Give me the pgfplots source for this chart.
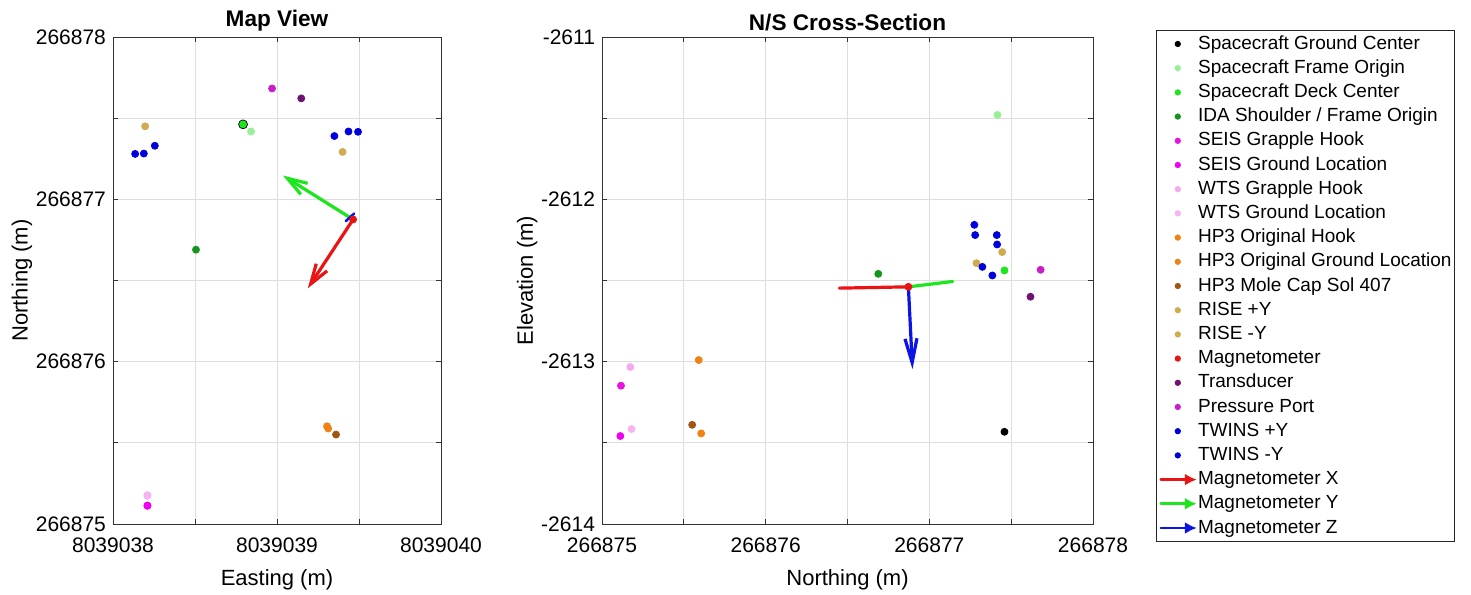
\documentclass[border=0pt]{standalone}
\usepackage{fontspec}
\setmainfont{Liberation Sans}
\usepackage{pgfplots}
\pgfplotsset{compat=1.18}
\usetikzlibrary{arrows.meta}
\makeatletter
\newdimen\trdim
% raw input strings (limits, ticks)
\def\stripE#180390#2\stop{#2}
\def\stripN#12668#2\stop{#2}
\def\stripZ#1-26#2\stop{#2}
% float-format input strings (data points), e.g. 1Y8.039038793e6]
\def\fltE#11Y8.0390#2e#3\stop{#2}
\def\fltN#11Y2.668#2e#3\stop{#2}
\def\fltZ#12Y2.6#2e#3\stop{#2}
\def\twodot#1#2#3\stop{#1#2.#3}
\def\trE#1{\edef\tmpv{#1}\edef\x{\noexpand\in@{Y}{\tmpv}}\x
  \ifin@\edef\tmpv{\expandafter\fltE\tmpv\stop}\edef\tmpv{\expandafter\twodot\tmpv000000\stop}%
  \else\edef\tmpv{\expandafter\stripE\tmpv\stop}\fi
  \trdim=\tmpv pt\advance\trdim by -38pt\edef\pgfmathresult{\strip@pt\trdim}}
\def\trN#1{\edef\tmpv{#1}\edef\x{\noexpand\in@{Y}{\tmpv}}\x
  \ifin@\edef\tmpv{\expandafter\fltN\tmpv\stop}\edef\tmpv{\expandafter\twodot\tmpv000000\stop}%
  \else\edef\tmpv{\expandafter\stripN\tmpv\stop}\fi
  \trdim=\tmpv pt\advance\trdim by -75pt\edef\pgfmathresult{\strip@pt\trdim}}
\def\trZ#1{\edef\tmpv{#1}\edef\x{\noexpand\in@{Y}{\tmpv}}\x
  \ifin@\edef\tmpv{\expandafter\fltZ\tmpv\stop}\edef\tmpv{\expandafter\twodot\tmpv000000\stop}%
  \else\edef\tmpv{\expandafter\stripZ\tmpv\stop}\fi
  \trdim=14pt\advance\trdim by -\tmpv pt\edef\pgfmathresult{\strip@pt\trdim}}
\makeatother
\definecolor{cFrame}{RGB}{150,240,150}
\definecolor{cDeck}{RGB}{30,230,30}
\definecolor{cIDA}{RGB}{20,150,30}
\definecolor{cSEISh}{RGB}{230,20,220}
\definecolor{cSEISg}{RGB}{240,0,240}
\definecolor{cWTSh}{RGB}{245,170,240}
\definecolor{cWTSg}{RGB}{248,180,240}
\definecolor{cHP3}{RGB}{240,130,20}
\definecolor{cMole}{RGB}{160,85,20}
\definecolor{cRISE}{RGB}{210,170,80}
\definecolor{cMag}{RGB}{230,20,20}
\definecolor{cTrans}{RGB}{110,20,110}
\definecolor{cPort}{RGB}{200,30,200}
\definecolor{cTwins}{RGB}{0,0,220}
\definecolor{aRed}{RGB}{235,20,20}
\definecolor{aGreen}{RGB}{30,230,30}
\definecolor{aBlue}{RGB}{10,20,230}
\pgfplotsset{
  base/.style={
    scale only axis, anchor=south west,
    axis line style={black!80, line width=0.5pt},
    tick align=inside, tick pos=both, major tick length=2.5pt,
    tick style={black!80, line width=0.5pt},
    grid=major, major grid style={black!13, line width=0.4pt},
    ticklabel style={font=\fontsize{10.5}{12}\selectfont},
    xticklabel style={yshift=-3.5pt},
    label style={font=\fontsize{11}{13}\selectfont},
    xlabel style={yshift=-1.5pt},
    ylabel style={yshift=-5pt},
    title style={font=\bfseries\fontsize{11.3}{13}\selectfont, yshift=-6.5pt},
    legend image code/.code={\path[draw=none,fill=none] (0pt,0pt) -- (18pt,0pt); \draw[#1,draw=none,mark size=1.3pt] plot coordinates {(8.5pt,0pt)};},
  },
  dot/.style={only marks, mark=*, mark size=1.75pt, color=#1},
  arr/.style={color=#1, line width=1.6pt, line cap=round,
    legend image code/.code={\draw[##1,line width=1.3pt,-{Latex[length=6pt,width=6pt]}] (0pt,0pt) -- (18pt,0pt);}},
}
\begin{document}
\begin{tikzpicture}
\path[use as bounding box] (0pt,0pt) rectangle (735.5pt,-297pt);
% ---------------- Map view ----------------
\begin{axis}[base, at={(56.5pt,-262pt)}, width=164pt, height=243.5pt,
  x coord trafo/.code={\trE{#1}}, y coord trafo/.code={\trN{#1}},
  xmin=8039038, xmax=8039040, ymin=266875, ymax=266878,
  xtick={8039038,8039038.5,8039039,8039039.5,8039040},
  xticklabels={8039038,{},8039039,{},8039040},
  ytick={266875,266875.5,266876,266876.5,266877,266877.5,266878},
  yticklabels={266875,{},266876,{},266877,{},266878},
  title={Map View}, xlabel={Easting (m)}, ylabel={Northing (m)}]
\addplot[dot=black, mark size=2.2pt] coordinates {(8039038.793,266877.462)};
\addplot[dot=cFrame] coordinates {(8039038.842,266877.418)};
\addplot[dot=cDeck] coordinates {(8039038.793,266877.462)};
\addplot[dot=cIDA] coordinates {(8039038.506,266876.690)};
\addplot[dot=cSEISh] coordinates {(8039038.210,266875.114)};
\addplot[dot=cSEISg] coordinates {(8039038.210,266875.112)};
\addplot[dot=cWTSh] coordinates {(8039038.210,266875.174)};
\addplot[dot=cWTSg] coordinates {(8039038.210,266875.178)};
\addplot[dot=cHP3] coordinates {(8039039.305,266875.602)};
\addplot[dot=cHP3] coordinates {(8039039.312,266875.588)};
\addplot[dot=cMole] coordinates {(8039039.360,266875.551)};
\addplot[dot=cRISE] coordinates {(8039038.196,266877.450)};
\addplot[dot=cRISE] coordinates {(8039039.400,266877.292)};
\addplot[dot=cMag] coordinates {(8039039.464,266876.876)};
\addplot[dot=cTrans] coordinates {(8039039.148,266877.622)};
\addplot[dot=cPort] coordinates {(8039038.970,266877.683)};
\addplot[dot=cTwins] coordinates {(8039038.135,266877.280) (8039038.188,266877.282) (8039038.255,266877.330)};
\addplot[dot=cTwins] coordinates {(8039039.350,266877.390) (8039039.436,266877.418) (8039039.494,266877.416)};
\addplot[arr=aRed, -{Straight Barb[length=10pt,width=6.5pt]}] coordinates {(8039039.464,266876.876) (8039039.188,266876.452)};
\addplot[arr=aGreen, -{Straight Barb[length=10pt,width=6.5pt]}] coordinates {(8039039.464,266876.876) (8039039.036,266877.147)};
\addplot[arr=aBlue, line width=1.3pt] coordinates {(8039039.420,266876.866) (8039039.470,266876.912)};
\end{axis}
% ---------------- N/S cross-section ----------------
\begin{axis}[base, at={(301pt,-262pt)}, width=245.5pt, height=243.5pt,
  x coord trafo/.code={\trN{#1}}, y coord trafo/.code={\trZ{#1}},
  xmin=266875, xmax=266878, ymin=-2614, ymax=-2611,
  xtick={266875,266875.5,266876,266876.5,266877,266877.5,266878},
  xticklabels={266875,{},266876,{},266877,{},266878},
  ytick={-2614,-2613.5,-2613,-2612.5,-2612,-2611.5,-2611},
  yticklabels={-2614,{},-2613,{},-2612,{},-2611},
  title={N/S Cross-Section}, xlabel={Northing (m)}, ylabel={Elevation (m)},
  legend cell align=left,
  legend style={at={(1.1283,1.0144)}, anchor=north west, draw=black!85, line width=0.5pt,
    font=\fontsize{9.5}{11}\selectfont, inner xsep=1.5pt, inner ysep=1.5pt, row sep=1.6pt,
    nodes={inner xsep=0pt, inner ysep=0pt, text height=7.8pt, text depth=2.7pt}}]
\addplot[dot=black] coordinates {(266877.459,-2613.432)};
\addplot[dot=cFrame] coordinates {(266877.416,-2611.480)};
\addplot[dot=cDeck] coordinates {(266877.459,-2612.438)};
\addplot[dot=cIDA] coordinates {(266876.688,-2612.459)};
\addplot[dot=cSEISh] coordinates {(266875.116,-2613.148)};
\addplot[dot=cSEISg] coordinates {(266875.112,-2613.458)};
\addplot[dot=cWTSh] coordinates {(266875.173,-2613.033)};
\addplot[dot=cWTSg] coordinates {(266875.180,-2613.415)};
\addplot[dot=cHP3] coordinates {(266875.591,-2612.990)};
\addplot[dot=cHP3] coordinates {(266875.606,-2613.442)};
\addplot[dot=cMole] coordinates {(266875.551,-2613.389)};
\addplot[dot=cRISE] coordinates {(266877.445,-2612.325)};
\addplot[dot=cRISE] coordinates {(266877.288,-2612.393)};
\addplot[dot=cMag] coordinates {(266876.872,-2612.539)};
\addplot[dot=cTrans] coordinates {(266877.618,-2612.600)};
\addplot[dot=cPort] coordinates {(266877.680,-2612.434)};
\addplot[dot=cTwins] coordinates {(266877.275,-2612.157) (266877.280,-2612.220) (266877.324,-2612.416)};
\addplot[dot=cTwins] coordinates {(266877.385,-2612.469) (266877.412,-2612.220) (266877.414,-2612.278)};
\addplot[arr=aRed] coordinates {(266876.872,-2612.539) (266876.450,-2612.547)};
\addplot[arr=aGreen] coordinates {(266876.872,-2612.539) (266877.143,-2612.506)};
\addplot[arr=aBlue, -{Straight Barb[length=12pt,width=6pt]}] coordinates {(266876.872,-2612.539) (266876.897,-2613.046)};
\legend{Spacecraft Ground Center, Spacecraft Frame Origin, Spacecraft Deck Center, IDA Shoulder / Frame Origin, SEIS Grapple Hook, SEIS Ground Location, WTS Grapple Hook, WTS Ground Location, HP3 Original Hook, HP3 Original Ground Location, HP3 Mole Cap Sol 407, RISE +Y, RISE -Y, Magnetometer, Transducer, Pressure Port, TWINS +Y, TWINS -Y, Magnetometer X, Magnetometer Y, Magnetometer Z}
\end{axis}
\end{tikzpicture}
\end{document}
